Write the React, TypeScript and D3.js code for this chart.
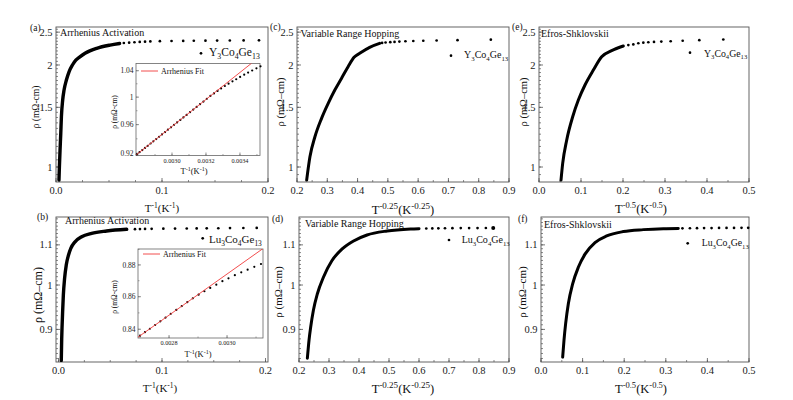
import React from "react";
import * as d3 from "d3";

const FONT = "Liberation Serif, Times New Roman, Times, serif";

// ---------------- Data ----------------
// (a) Y3Co4Ge13, rho vs 1/T
const aCurveX = [0.0028, 0.0032, 0.0038, 0.0045, 0.0051, 0.0063, 0.0076, 0.0098, 0.0123, 0.0155, 0.0187, 0.0219, 0.0274, 0.0384, 0.051, 0.06];
const aCurveRho = [0.915, 1.0, 1.12, 1.257, 1.407, 1.577, 1.687, 1.806, 1.91, 2.0, 2.068, 2.106, 2.165, 2.24, 2.29, 2.315];
const aDotX = [0.064, 0.069, 0.074, 0.079, 0.084, 0.089, 0.098, 0.109, 0.12, 0.13, 0.141, 0.152, 0.164, 0.177, 0.1915];
const aDotRho = [2.322, 2.328, 2.334, 2.339, 2.343, 2.347, 2.351, 2.354, 2.356, 2.358, 2.36, 2.361, 2.362, 2.364, 2.365];

// (b) Lu3Co4Ge13, rho vs 1/T
const bCurveX = [0.0027, 0.0031, 0.0034, 0.004, 0.0047, 0.0059, 0.0075, 0.0097, 0.0119, 0.016, 0.0224, 0.032, 0.0465, 0.0659];
const bCurveRho = [0.836, 0.88, 0.902, 0.9386, 0.9765, 1.016, 1.0486, 1.074, 1.091, 1.108, 1.1214, 1.1305, 1.1368, 1.1414];
const bDotX = [0.0739, 0.0787, 0.0836, 0.09, 0.1013, 0.1126, 0.1239, 0.1335, 0.1432, 0.1544, 0.1657, 0.1786, 0.1915];
const bDotRho = [1.1418, 1.142, 1.1423, 1.1426, 1.143, 1.1433, 1.1436, 1.1438, 1.144, 1.1443, 1.1446, 1.1449, 1.1452];

// (c) Y3Co4Ge13, rho vs T^-0.25
const cCurveX = [0.2319, 0.2427, 0.2592, 0.2811, 0.303, 0.3249, 0.3468, 0.3687, 0.3884, 0.4071, 0.4399, 0.4728];
const cCurveRho = [0.915, 1.072, 1.228, 1.392, 1.541, 1.687, 1.826, 1.976, 2.107, 2.165, 2.255, 2.316];
const cDotX = [0.481, 0.4925, 0.508, 0.522, 0.538, 0.558, 0.584, 0.617, 0.661, 0.73, 0.84];
const cDotRho = [2.323, 2.33, 2.336, 2.34, 2.345, 2.35, 2.354, 2.358, 2.362, 2.368, 2.375];

// (d) Lu3Co4Ge13, rho vs T^-0.25
const dCurveX = [0.2279, 0.2335, 0.2391, 0.248, 0.2613, 0.2814, 0.3095, 0.343, 0.3819, 0.4268, 0.4937, 0.5718, 0.6];
const dCurveRho = [0.8406, 0.8776, 0.9057, 0.9418, 0.9795, 1.0187, 1.0593, 1.0889, 1.1103, 1.1261, 1.1369, 1.1423, 1.1432];
const dDotX = [0.6243, 0.6444, 0.6645, 0.6866, 0.7114, 0.7392, 0.767, 0.7951, 0.8229, 0.8474];
const dDotRho = [1.1436, 1.1438, 1.144, 1.1442, 1.1444, 1.1446, 1.1447, 1.1448, 1.1449, 1.145];

// (e) Y3Co4Ge13, rho vs T^-0.5
const eCurveX = [0.0524, 0.0564, 0.0659, 0.0802, 0.0937, 0.1095, 0.1294, 0.1492, 0.173, 0.2008];
const eCurveRho = [0.915, 1.025, 1.2, 1.407, 1.576, 1.746, 1.932, 2.115, 2.204, 2.275];
const eDotX = [0.2127, 0.2246, 0.2365, 0.2484, 0.2603, 0.2738, 0.2912, 0.3135, 0.3421, 0.3817, 0.4388];
const eDotRho = [2.29, 2.3, 2.318, 2.328, 2.334, 2.34, 2.345, 2.35, 2.358, 2.368, 2.378];

// (f) Lu3Co4Ge13, rho vs T^-0.5
const fCurveX = [0.0521, 0.0553, 0.0593, 0.0657, 0.0761, 0.0897, 0.1058, 0.1298, 0.1579, 0.1979, 0.246, 0.294, 0.33];
const fCurveRho = [0.8427, 0.8776, 0.9128, 0.9567, 1.0028, 1.043, 1.0761, 1.106, 1.1235, 1.1352, 1.1405, 1.1432, 1.1438];
const fDotX = [0.34, 0.358, 0.375, 0.392, 0.41, 0.428, 0.446, 0.464, 0.482, 0.498];
const fDotRho = [1.144, 1.1442, 1.1444, 1.1446, 1.1448, 1.145, 1.1451, 1.1452, 1.1453, 1.1455];

// Inset (a): Y3Co4Ge13 near room temperature
const insAX = [0.002793, 0.002809, 0.002825, 0.002841, 0.002857, 0.002874, 0.00289, 0.002907, 0.002924, 0.002941, 0.002959, 0.002976, 0.002994, 0.003012, 0.00303, 0.003049, 0.003067, 0.003086, 0.003106, 0.003125, 0.003145, 0.003165, 0.003185, 0.003205, 0.003226, 0.003247, 0.003268, 0.003289, 0.003311, 0.003333, 0.003356, 0.003378, 0.003401, 0.003425, 0.003448, 0.003472, 0.003497, 0.003521];
const insARho = [0.9185, 0.9215, 0.9244, 0.9274, 0.9303, 0.9335, 0.9365, 0.9397, 0.9429, 0.9461, 0.9495, 0.9528, 0.9562, 0.9597, 0.9631, 0.9668, 0.9703, 0.974, 0.9779, 0.9817, 0.9856, 0.9896, 0.9935, 0.9975, 1.0018, 1.0055, 1.0092, 1.013, 1.0167, 1.0202, 1.0237, 1.0269, 1.0304, 1.0339, 1.0372, 1.0403, 1.0437, 1.0468];
const insAFitX = [0.00279, 0.00349];
const insAFitRho = [0.918, 1.0562];

// Inset (b): Lu3Co4Ge13 near room temperature
const insBX = [0.0027, 0.002717, 0.002734, 0.002752, 0.00277, 0.002788, 0.002806, 0.002825, 0.002844, 0.002863, 0.002882, 0.002902, 0.002922, 0.002942, 0.002963, 0.002984, 0.003005, 0.003027, 0.003049, 0.003071, 0.003094, 0.003117];
const insBRho = [0.8361, 0.8382, 0.8403, 0.8426, 0.8448, 0.8471, 0.8494, 0.8518, 0.8542, 0.8566, 0.859, 0.8613, 0.8634, 0.8655, 0.8675, 0.8697, 0.8715, 0.8735, 0.8753, 0.877, 0.8788, 0.8806];
const insBFitX = [0.002693, 0.003124];
const insBFitRho = [0.8352, 0.8905];

// Tick values / labels
const topYTicks = [1, 1.5, 2, 2.5];
const topYTickLabels = ["1", "1.5", "2", "2.5"];
const botYTicks = [0.9, 1, 1.1];
const botYTickLabels = ["0.9", "1", "1.1"];
const invXTicks = [0, 0.1, 0.2];
const invXTickLabels = ["0.0", "0.1", "0.2"];
const vrhXTicks = [0.2, 0.3, 0.4, 0.5, 0.6, 0.7, 0.8, 0.9];
const vrhXTickLabels = ["0.2", "0.3", "0.4", "0.5", "0.6", "0.7", "0.8", "0.9"];
const esXTicks = [0, 0.1, 0.2, 0.3, 0.4, 0.5];
const esXTickLabels = ["0.0", "0.1", "0.2", "0.3", "0.4", "0.5"];
const insAXTicks = [0.003, 0.0032, 0.0034];
const insAXTickLabels = ["0.0030", "0.0032", "0.0034"];
const insAYTicks = [0.92, 0.96, 1, 1.04];
const insAYTickLabels = ["0.92", "0.96", "1", "1.04"];
const insBXTicks = [0.0028, 0.003];
const insBXTickLabels = ["0.0028", "0.0030"];
const insBYTicks = [0.84, 0.86, 0.88];
const insBYTickLabels = ["0.84", "0.86", "0.88"];

// ---------------- helpers ----------------
function chem(formula: string, fs: number) {
  const parts = formula.match(/\d+|\D+/g) || [];
  let sub = false;
  return parts.map((p, i) => {
    const isNum = /\d/.test(p);
    let dy = 0;
    if (isNum && !sub) dy = fs * 0.28;
    if (!isNum && sub) dy = -fs * 0.28;
    sub = isNum;
    return (
      <tspan key={i} dy={dy} fontSize={isNum ? fs * 0.68 : fs}>
        {p}
      </tspan>
    );
  });
}

function powTitle(exp: string, fs: number, sfs: number) {
  const up = fs * 0.38;
  return [
    <tspan key="t" fontSize={fs}>T</tspan>,
    <tspan key="e1" fontSize={sfs} dy={-up}>{exp}</tspan>,
    <tspan key="k" fontSize={fs} dy={up}>(K</tspan>,
    <tspan key="e2" fontSize={sfs} dy={-up}>{exp}</tspan>,
    <tspan key="c" fontSize={fs} dy={up}>)</tspan>,
  ];
}

function range(a: number, b: number, s: number) {
  const out: number[] = [];
  for (let v = a; v <= b + s * 1e-6; v += s) out.push(+v.toFixed(6));
  return out;
}

interface PanelProps {
  id: string;
  x0: number; x1: number; y0: number; y1: number;
  xDomain: [number, number]; yDomain: [number, number];
  xTicks: number[]; xTickLabels: string[]; xMinorStep: number;
  yTicks: number[]; yTickLabels: string[]; yMinorStep: number;
  curveX: number[]; curveRho: number[]; dotX: number[]; dotRho: number[];
  lw: number; bigLast?: boolean;
  title: string; titleX: number; titleY: number;
  label: string; labelX: number; labelY: number;
  formula: string; legDotX: number; legDotY: number; legTextX: number; legTextY: number; legFs: number;
  xTitleExp: string; xTitleX: number; xTitleY: number; xTitleFs: number; xTitleSFs: number;
  yTitle: string; yTitleX: number; yTitleY: number; yTitleFs: number;
}

function Panel(p: PanelProps) {
  const xs = d3.scaleLinear().domain(p.xDomain).range([p.x0, p.x1]);
  const ys = d3.scaleLog().domain(p.yDomain).range([p.y1, p.y0]);
  const line = d3
    .line<number>()
    .x((d) => xs(d))
    .y((_, i) => ys(p.curveRho[i]))
    .curve(d3.curveMonotoneX);
  const xMinor = range(Math.ceil(p.xDomain[0] / p.xMinorStep) * p.xMinorStep, p.xDomain[1], p.xMinorStep);
  const yMinor = range(Math.ceil(p.yDomain[0] / p.yMinorStep) * p.yMinorStep, p.yDomain[1], p.yMinorStep);
  const clip = `clip-${p.id}`;
  const axisCol = "#555";
  return (
    <g style={{ fontFamily: FONT }}>
      <defs>
        <clipPath id={clip}>
          <rect x={p.x0} y={p.y0} width={p.x1 - p.x0} height={p.y1 - p.y0} />
        </clipPath>
      </defs>
      <rect x={p.x0} y={p.y0} width={p.x1 - p.x0} height={p.y1 - p.y0} fill="none" stroke={axisCol} strokeWidth={0.9} />
      {xMinor.map((v, i) => (
        <line key={"xm" + i} x1={xs(v)} x2={xs(v)} y1={p.y1} y2={p.y1 - 2} stroke={axisCol} strokeWidth={0.7} />
      ))}
      {p.xTicks.map((v, i) => (
        <g key={"xt" + i}>
          <line x1={xs(v)} x2={xs(v)} y1={p.y1} y2={p.y1 - 4} stroke={axisCol} strokeWidth={0.8} />
          <text x={xs(v)} y={p.y1 + 11.5} fontSize={10.5} textAnchor="middle" fill="#222">
            {p.xTickLabels[i]}
          </text>
        </g>
      ))}
      {yMinor.map((v, i) => (
        <line key={"ym" + i} x1={p.x0} x2={p.x0 + 2} y1={ys(v)} y2={ys(v)} stroke={axisCol} strokeWidth={0.7} />
      ))}
      {p.yTicks.map((v, i) => (
        <g key={"yt" + i}>
          <line x1={p.x0} x2={p.x0 + 4} y1={ys(v)} y2={ys(v)} stroke={axisCol} strokeWidth={0.8} />
          <text x={p.x0 - 3.5} y={ys(v) + 3.6} fontSize={10.5} textAnchor="end" fill="#222">
            {p.yTickLabels[i]}
          </text>
        </g>
      ))}
      <g clipPath={`url(#${clip})`}>
        <path d={line(p.curveX) || ""} fill="none" stroke="#000" strokeWidth={p.lw} strokeLinecap="round" strokeLinejoin="round" />
      </g>
      {p.dotX.map((x, i) => (
        <circle
          key={"d" + i}
          cx={xs(x)}
          cy={ys(p.dotRho[i])}
          r={p.bigLast && i === p.dotX.length - 1 ? 2 : 1.35}
          fill="#000"
        />
      ))}
      <text x={p.titleX} y={p.titleY} fontSize={10} fill="#111">{p.title}</text>
      <text x={p.labelX} y={p.labelY} fontSize={9.5} fill="#111">{p.label}</text>
      <circle cx={p.legDotX} cy={p.legDotY} r={1.35} fill="#000" />
      <text x={p.legTextX} y={p.legTextY} fill="#111">{chem(p.formula, p.legFs)}</text>
      <text x={p.xTitleX} y={p.xTitleY} textAnchor="middle" fill="#111">
        {powTitle(p.xTitleExp, p.xTitleFs, p.xTitleSFs)}
      </text>
      <text
        transform={`translate(${p.yTitleX},${p.yTitleY}) rotate(-90)`}
        textAnchor="middle"
        fontSize={p.yTitleFs}
        fill="#111"
      >
        {p.yTitle}
      </text>
    </g>
  );
}

interface InsetProps {
  id: string;
  x0: number; x1: number; y0: number; y1: number;
  xDomain: [number, number]; yDomain: [number, number];
  xTicks: number[]; xTickLabels: string[]; xMinorStep: number;
  yTicks: number[]; yTickLabels: string[]; yMinorStep: number;
  dx: number[]; drho: number[]; fitX: number[]; fitRho: number[];
  legY: number; yTitleX: number; yTitleY: number; xTitleX: number; xTitleY: number;
}

function Inset(p: InsetProps) {
  const xs = d3.scaleLinear().domain(p.xDomain).range([p.x0, p.x1]);
  const ys = d3.scaleLog().domain(p.yDomain).range([p.y1, p.y0]);
  const fit = d3
    .line<number>()
    .x((d) => xs(d))
    .y((_, i) => ys(p.fitRho[i]));
  const xMinor = range(Math.ceil(p.xDomain[0] / p.xMinorStep) * p.xMinorStep, p.xDomain[1], p.xMinorStep);
  const yMinor = range(Math.ceil(p.yDomain[0] / p.yMinorStep) * p.yMinorStep, p.yDomain[1], p.yMinorStep);
  const clip = `iclip-${p.id}`;
  const axisCol = "#666";
  return (
    <g style={{ fontFamily: FONT }}>
      <defs>
        <clipPath id={clip}>
          <rect x={p.x0} y={p.y0} width={p.x1 - p.x0} height={p.y1 - p.y0} />
        </clipPath>
      </defs>
      <rect x={p.x0} y={p.y0} width={p.x1 - p.x0} height={p.y1 - p.y0} fill="#fff" stroke={axisCol} strokeWidth={0.8} />
      {xMinor.map((v, i) => (
        <line key={"xm" + i} x1={xs(v)} x2={xs(v)} y1={p.y1} y2={p.y1 - 1.5} stroke={axisCol} strokeWidth={0.6} />
      ))}
      {p.xTicks.map((v, i) => (
        <g key={"xt" + i}>
          <line x1={xs(v)} x2={xs(v)} y1={p.y1} y2={p.y1 - 3} stroke={axisCol} strokeWidth={0.7} />
          <text x={xs(v)} y={p.y1 + 7} fontSize={6.2} textAnchor="middle" fill="#222">
            {p.xTickLabels[i]}
          </text>
        </g>
      ))}
      {yMinor.map((v, i) => (
        <line key={"ym" + i} x1={p.x0} x2={p.x0 + 1.5} y1={ys(v)} y2={ys(v)} stroke={axisCol} strokeWidth={0.6} />
      ))}
      {p.yTicks.map((v, i) => (
        <g key={"yt" + i}>
          <line x1={p.x0} x2={p.x0 + 3} y1={ys(v)} y2={ys(v)} stroke={axisCol} strokeWidth={0.7} />
          <text x={p.x0 - 2.5} y={ys(v) + 2.6} fontSize={7.5} textAnchor="end" fill="#222">
            {p.yTickLabels[i]}
          </text>
        </g>
      ))}
      {p.dx.map((x, i) => (
        <circle key={"d" + i} cx={xs(x)} cy={ys(p.drho[i])} r={1.1} fill="#000" />
      ))}
      <g clipPath={`url(#${clip})`}>
        <path d={fit(p.fitX) || ""} fill="none" stroke="#f03a3a" strokeWidth={0.9} />
      </g>
      <line x1={p.x0 + 5} x2={p.x0 + 22} y1={p.legY} y2={p.legY} stroke="#f03a3a" strokeWidth={0.9} />
      <text x={p.x0 + 25} y={p.legY + 2.8} fontSize={8} fill="#111">Arrhenius Fit</text>
      <text transform={`translate(${p.yTitleX},${p.yTitleY}) rotate(-90)`} textAnchor="middle" fontSize={7.5} fill="#111">
        ρ (mΩ-cm)
      </text>
      <text x={p.xTitleX} y={p.xTitleY} textAnchor="middle" fill="#111">
        {powTitle("-1", 8.5, 6)}
      </text>
    </g>
  );
}

export default function App() {
  const topY: [number, number] = [0.9032, 2.589];
  const botY: [number, number] = [0.833, 1.1752];
  return (
    <svg width={793} height={400} style={{ position: "absolute", left: 0, top: 0, background: "#fff", fontFamily: FONT }}>
      <rect x={0} y={0} width={793} height={400} fill="#fff" />
      <Panel
        id="a" x0={56} x1={268} y0={27} y1={182} xDomain={[0, 0.2]} yDomain={topY}
        xTicks={invXTicks} xTickLabels={invXTickLabels} xMinorStep={0.025}
        yTicks={topYTicks} yTickLabels={topYTickLabels} yMinorStep={0.05}
        curveX={aCurveX} curveRho={aCurveRho} dotX={aDotX} dotRho={aDotRho} lw={3.4}
        title="Arrhenius Activation" titleX={60} titleY={36}
        label="(a)" labelX={30} labelY={31}
        formula="Y3Co4Ge13" legDotX={201} legDotY={53.3} legTextX={209} legTextY={56} legFs={11.5}
        xTitleExp="-1" xTitleX={162} xTitleY={212} xTitleFs={11} xTitleSFs={7.5}
        yTitle="ρ (mΩ-cm)" yTitleX={39} yTitleY={107} yTitleFs={9.5}
      />
      <Panel
        id="b" x0={56} x1={268} y0={217} y1={362} xDomain={[-0.0024, 0.2024]} yDomain={botY}
        xTicks={invXTicks} xTickLabels={invXTickLabels} xMinorStep={0.025}
        yTicks={botYTicks} yTickLabels={botYTickLabels} yMinorStep={0.01}
        curveX={bCurveX} curveRho={bCurveRho} dotX={bDotX} dotRho={bDotRho} lw={3.4}
        title="Arrhenius Activation" titleX={65} titleY={224}
        label="(b)" labelX={37} labelY={220}
        formula="Lu3Co4Ge13" legDotX={202.7} legDotY={238.3} legTextX={209} legTextY={243} legFs={11}
        xTitleExp="-1" xTitleX={160} xTitleY={392} xTitleFs={11} xTitleSFs={7.5}
        yTitle="ρ (mΩ–cm)" yTitleX={42} yTitleY={295} yTitleFs={12}
      />
      <Panel
        id="c" x0={297} x1={509} y0={27} y1={182} xDomain={[0.2, 0.9]} yDomain={topY}
        xTicks={vrhXTicks} xTickLabels={vrhXTickLabels} xMinorStep={0.05}
        yTicks={topYTicks} yTickLabels={topYTickLabels} yMinorStep={0.05}
        curveX={cCurveX} curveRho={cCurveRho} dotX={cDotX} dotRho={cDotRho} lw={3}
        title="Variable Range Hopping" titleX={300.5} titleY={36.5}
        label="(c)" labelX={270} labelY={29.5}
        formula="Y3Co4Ge13" legDotX={451} legDotY={55.7} legTextX={464} legTextY={58} legFs={10}
        xTitleExp="-0.25" xTitleX={403} xTitleY={214} xTitleFs={12.5} xTitleSFs={9}
        yTitle="ρ (mΩ–cm)" yTitleX={284} yTitleY={102} yTitleFs={10.5}
      />
      <Panel
        id="d" x0={299} x1={509} y0={217} y1={362} xDomain={[0.2, 0.9]} yDomain={botY}
        xTicks={vrhXTicks} xTickLabels={vrhXTickLabels} xMinorStep={0.05}
        yTicks={botYTicks} yTickLabels={botYTickLabels} yMinorStep={0.01}
        curveX={dCurveX} curveRho={dCurveRho} dotX={dDotX} dotRho={dDotRho} lw={3} bigLast
        title="Variable Range Hopping" titleX={305} titleY={226.5}
        label="(d)" labelX={272} labelY={222}
        formula="Lu3Co4Ge13" legDotX={449} legDotY={240} legTextX={461.7} legTextY={243} legFs={10}
        xTitleExp="-0.25" xTitleX={403} xTitleY={393} xTitleFs={12.5} xTitleSFs={9}
        yTitle="ρ (mΩ–cm)" yTitleX={282} yTitleY={292} yTitleFs={11}
      />
      <Panel
        id="e" x0={539} x1={749} y0={27} y1={182} xDomain={[0, 0.5]} yDomain={topY}
        xTicks={esXTicks} xTickLabels={esXTickLabels} xMinorStep={0.05}
        yTicks={topYTicks} yTickLabels={topYTickLabels} yMinorStep={0.05}
        curveX={eCurveX} curveRho={eCurveRho} dotX={eDotX} dotRho={eDotRho} lw={3}
        title="Efros-Shklovskii" titleX={541} titleY={36.5}
        label="(e)" labelX={512} labelY={29.5}
        formula="Y3Co4Ge13" legDotX={690} legDotY={52.7} legTextX={704} legTextY={56.5} legFs={9.8}
        xTitleExp="-0.5" xTitleX={641} xTitleY={213} xTitleFs={12.5} xTitleSFs={8.5}
        yTitle="ρ (mΩ–cm)" yTitleX={527} yTitleY={102} yTitleFs={10.5}
      />
      <Panel
        id="f" x0={541} x1={749} y0={217} y1={362} xDomain={[0, 0.5]} yDomain={botY}
        xTicks={esXTicks} xTickLabels={esXTickLabels} xMinorStep={0.05}
        yTicks={botYTicks} yTickLabels={botYTickLabels} yMinorStep={0.01}
        curveX={fCurveX} curveRho={fCurveRho} dotX={fDotX} dotRho={fDotRho} lw={3}
        title="Efros-Shklovskii" titleX={544} titleY={228}
        label="(f)" labelX={518} labelY={222}
        formula="Lu3Co4Ge13" legDotX={687.7} legDotY={243.3} legTextX={701.7} legTextY={246} legFs={9.8}
        xTitleExp="-0.5" xTitleX={641} xTitleY={393} xTitleFs={12.5} xTitleSFs={8.5}
        yTitle="ρ (mΩ–cm)" yTitleX={526} yTitleY={292} yTitleFs={11}
      />
      <Inset
        id="ia" x0={136} x1={260} y0={63.5} y1={155.5} xDomain={[0.002788, 0.003518]} yDomain={[0.917, 1.0512]}
        xTicks={insAXTicks} xTickLabels={insAXTickLabels} xMinorStep={0.0001}
        yTicks={insAYTicks} yTickLabels={insAYTickLabels} yMinorStep={0.02}
        dx={insAX} drho={insARho} fitX={insAFitX} fitRho={insAFitRho}
        legY={71} yTitleX={117} yTitleY={112} xTitleX={194} xTitleY={174}
      />
      <Inset
        id="ib" x0={138} x1={263} y0={249} y1={338} xDomain={[0.002693, 0.003124]} yDomain={[0.8347, 0.8902]}
        xTicks={insBXTicks} xTickLabels={insBXTickLabels} xMinorStep={0.0001}
        yTicks={insBYTicks} yTickLabels={insBYTickLabels} yMinorStep={0.01}
        dx={insBX} drho={insBRho} fitX={insBFitX} fitRho={insBFitRho}
        legY={254} yTitleX={117} yTitleY={297} xTitleX={198} xTitleY={357}
      />
    </svg>
  );
}
